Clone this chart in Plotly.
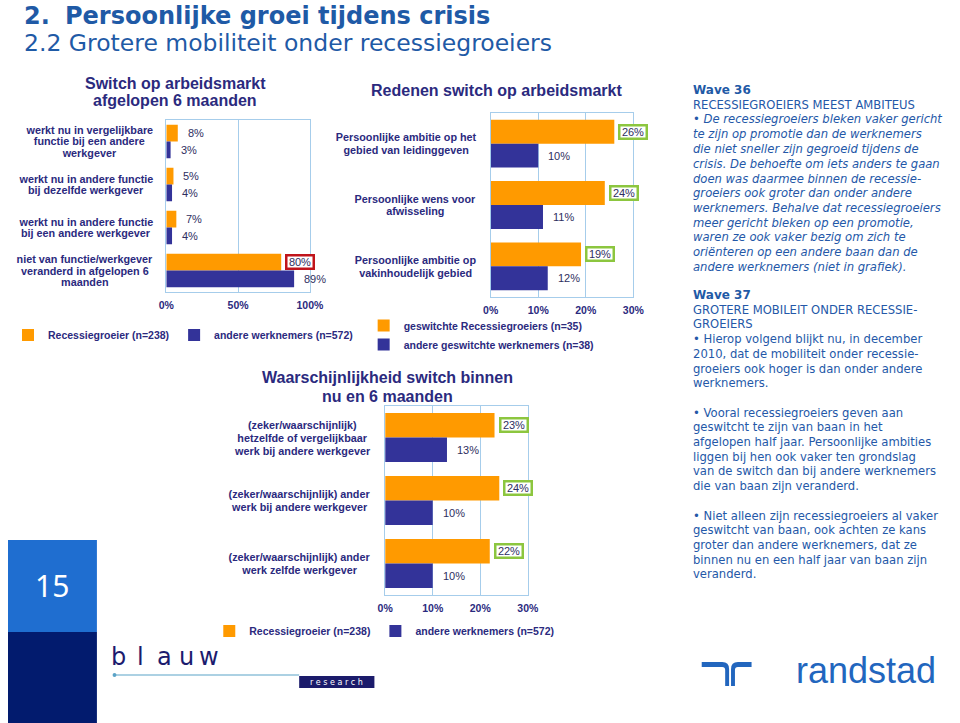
import plotly.graph_objects as go

OX, OY = 0, 0
W, H = 960, 723

# ---------------- data ----------------
switch_categories = [
    "werkt nu in vergelijkbare<br>functie bij een andere<br>werkgever",
    "werkt nu in andere functie<br>bij dezelfde werkgever",
    "werkt nu in andere functie<br>bij een andere werkgever",
    "niet van functie/werkgever<br>veranderd in afgelopen 6<br>maanden",
]
switch_recessiegroeier = [8, 5, 7, 80]
switch_andere = [3, 4, 4, 89]
switch_ticks = [0, 50, 100]
switch_series = ["Recessiegroeier (n=238)", "andere werknemers (n=572)"]
switch_title = ["Switch op arbeidsmarkt", "afgelopen 6 maanden"]

reasons_categories = [
    "Persoonlijke ambitie op het<br>gebied van leidinggeven",
    "Persoonlijke wens voor<br>afwisseling",
    "Persoonlijke ambitie op<br>vakinhoudelijk gebied",
]
reasons_recessiegroeier = [26, 24, 19]
reasons_andere = [10, 11, 12]
reasons_ticks = [0, 10, 20, 30]
reasons_series = ["geswitchte Recessiegroeiers (n=35)", "andere geswitchte werknemers (n=38)"]
reasons_title = ["Redenen switch op arbeidsmarkt"]

likely_categories = [
    "(zeker/waarschijnlijk)<br>hetzelfde of vergelijkbaar<br>werk bij andere werkgever",
    "(zeker/waarschijnlijk) ander<br>werk bij andere werkgever",
    "(zeker/waarschijnlijk) ander<br>werk zelfde werkgever",
]
likely_recessiegroeier = [23, 24, 22]
likely_andere = [13, 10, 10]
likely_ticks = [0, 10, 20, 30]
likely_series = ["Recessiegroeier (n=238)", "andere werknemers (n=572)"]
likely_title = ["Waarschijnlijkheid switch binnen", "nu en 6 maanden"]

heading_number = "2."
heading_main = "Persoonlijke groei tijdens crisis"
heading_sub = "2.2 Grotere mobiliteit onder recessiegroeiers"
page_number = "15"

wave36_lines = [
    ("Wave 36", "head"),
    ("RECESSIEGROEIERS MEEST AMBITEUS", "plain"),
    ("• De recessiegroeiers bleken vaker gericht", "italic"),
    ("te zijn op promotie dan de werknemers", "italic"),
    ("die niet sneller zijn gegroeid tijdens de", "italic"),
    ("crisis. De behoefte om iets anders te gaan", "italic"),
    ("doen was daarmee binnen de recessie-", "italic"),
    ("groeiers ook groter dan onder andere", "italic"),
    ("werknemers. Behalve dat recessiegroeiers", "italic"),
    ("meer gericht bleken op een promotie,", "italic"),
    ("waren ze ook vaker bezig om zich te", "italic"),
    ("oriënteren op een andere baan dan de", "italic"),
    ("andere werknemers (niet in grafiek).", "italic"),
]
wave37_lines = [
    ("Wave 37", "head"),
    ("GROTERE MOBILEIT ONDER RECESSIE-", "plain"),
    ("GROEIERS", "plain"),
    ("• Hierop volgend blijkt nu, in december", "plain"),
    ("2010, dat de mobiliteit onder recessie-", "plain"),
    ("groeiers ook hoger is dan onder andere", "plain"),
    ("werknemers.", "plain"),
    ("", "plain"),
    ("• Vooral recessiegroeiers geven aan", "plain"),
    ("geswitcht te zijn van baan in het", "plain"),
    ("afgelopen half jaar. Persoonlijke ambities", "plain"),
    ("liggen bij hen ook vaker ten grondslag", "plain"),
    ("van de switch dan bij andere werknemers", "plain"),
    ("die van baan zijn veranderd.", "plain"),
    ("", "plain"),
    ("• Niet alleen zijn recessiegroeiers al vaker", "plain"),
    ("geswitcht van baan, ook achten ze kans", "plain"),
    ("groter dan andere werknemers, dat ze", "plain"),
    ("binnen nu en een half jaar van baan zijn", "plain"),
    ("veranderd.", "plain"),
]

# ---------------- style ----------------
ARIAL = "Liberation Sans, Arial, sans-serif"
SLIDE = "DejaVu Sans, Verdana, sans-serif"
ORANGE = "#FF9A00"
NAVY = "#333399"
TXT = "#2B2A7E"
LBL = "#2E2E60"
GRID = "#A6CDEB"
HEAD = "#1F5AA6"
BODY = "#2458A8"
GREEN = "#8CC63F"
RED = "#C0141B"
BARGAP = 0.22
CAT_SIZE = 10.8


def px(x):
    return (x - OX) / W


def py(y):
    return 1 - (y - OY) / H


ARIAL_BOLD = dict(zip("abcdefghijklmnopqrstuvwxyz",
                      [556, 611, 556, 611, 556, 333, 611, 611, 278, 278, 556, 278, 889,
                       611, 611, 611, 611, 389, 556, 333, 611, 556, 778, 556, 556, 500]))
ARIAL_BOLD.update({" ": 278, "/": 278, "(": 333, ")": 333, "%": 889, ".": 278, "-": 333,
                   "=": 584, "P": 667, "W": 944, "R": 722, "S": 667})
for d in "0123456789":
    ARIAL_BOLD[d] = 556


def text_width(s, size):
    return sum(ARIAL_BOLD.get(ch, 700) for ch in s) * size / 1000


charts = [
    dict(ax="", cats=switch_categories, series=(switch_recessiegroeier, switch_andere),
         names=switch_series, ticks=switch_ticks, rng=[0, 100], box=(162, 120, 309, 292),
         label_right=152, line_step=11.5, legend="legend", title=switch_title,
         title_pos=(171, 83), title_step=18,
         boxed=lambda s, i: RED if (s == 0 and i == 3) else None),
    dict(ax="2", cats=reasons_categories, series=(reasons_recessiegroeier, reasons_andere),
         names=reasons_series, ticks=reasons_ticks, rng=[0, 30], box=(494, 113, 640, 297),
         label_right=483, line_step=12.7, legend="legend2", title=reasons_title,
         title_pos=(500, 90), title_step=18,
         boxed=lambda s, i: GREEN if s == 0 else None),
    dict(ax="3", cats=likely_categories, series=(likely_recessiegroeier, likely_andere),
         names=likely_series, ticks=likely_ticks, rng=[0, 30], box=(386, 406, 532, 595),
         label_right=375, line_step=13, legend="legend3", title=likely_title,
         title_pos=(388, 377), title_step=19,
         boxed=lambda s, i: GREEN if s == 0 else None),
]

fig = go.Figure()
layout = {}
annotations = []
off = (1 - BARGAP) / 4

for c in charts:
    xa, ya = "x" + c["ax"], "y" + c["ax"]
    x0, y0, x1, y1 = c["box"]
    for s, (vals, name, color) in enumerate(zip(c["series"], c["names"], [ORANGE, NAVY])):
        fig.add_trace(go.Bar(
            x=vals, y=c["cats"], orientation="h", name=name,
            marker=dict(color=color, line=dict(width=0)),
            xaxis=xa, yaxis=ya, legend=c["legend"],
            hovertemplate="%{x}%<extra>" + name + "</extra>",
        ))
        for i, v in enumerate(vals):
            bc = c["boxed"](s, i)
            ann = dict(x=v, y=i + (-off if s == 0 else off), xref=xa, yref=ya,
                       text=f"{v}%", showarrow=False, xanchor="left", yanchor="middle",
                       xshift=8, font=dict(family=ARIAL, size=11, color=LBL))
            if bc:
                ann.update(bordercolor=bc, borderwidth=2.5, borderpad=0.5, bgcolor="white",
                           width=24, height=10, xshift=4)
            annotations.append(ann)
    layout["xaxis" + c["ax"]] = dict(
        domain=[px(x0), px(x1)], anchor=ya, range=c["rng"], tickvals=c["ticks"],
        ticktext=[f"{t}%" for t in c["ticks"]],
        showgrid=True, gridcolor=GRID, gridwidth=1, showline=True,
        linecolor=GRID, linewidth=1, mirror=True, zeroline=False, ticks="",
        tickfont=dict(family=ARIAL, size=10.5, color=TXT, weight="bold"),
        ticklabelstandoff=3, fixedrange=True,
    )
    layout["yaxis" + c["ax"]] = dict(
        domain=[py(y1), py(y0)], anchor=xa, autorange="reversed", type="category",
        categoryorder="array", categoryarray=c["cats"], showticklabels=False,
        showline=True, linecolor=GRID, linewidth=1, mirror=True, showgrid=False,
        ticks="", fixedrange=True,
    )
    # category labels, centred lines, right-aligned block
    for i, cat in enumerate(c["cats"]):
        lines = cat.split("<br>")
        n = len(lines)
        bw = max(text_width(l, CAT_SIZE) for l in lines) + 4
        for j, line in enumerate(lines):
            annotations.append(dict(
                x=px(c["label_right"]), y=i, xref="paper", yref=ya, text=line,
                showarrow=False, xanchor="right", yanchor="middle", width=bw,
                align="center", yshift=((n - 1) / 2 - j) * c["line_step"],
                font=dict(family=ARIAL, size=CAT_SIZE, color=TXT, weight="bold"),
            ))
    # titles
    tx, ty = c["title_pos"]
    for j, line in enumerate(c["title"]):
        annotations.append(dict(
            x=px(tx), y=py(ty + j * c["title_step"]), xref="paper", yref="paper",
            text=line, showarrow=False, xanchor="center", yanchor="middle",
            font=dict(family=ARIAL, size=16, color=TXT, weight="bold"),
        ))

LEG_FONT = dict(family=ARIAL, size=10.5, color=TXT, weight="bold")
leg_common = dict(font=LEG_FONT, bgcolor="rgba(0,0,0,0)", itemwidth=30,
                  traceorder="normal", itemclick=False, itemdoubleclick=False,
                  xanchor="left", yanchor="middle", tracegroupgap=0)
layout["legend"] = dict(orientation="h", x=0, y=py(335), **leg_common)
layout["legend2"] = dict(orientation="v", x=px(364), y=py(335), **leg_common)
layout["legend3"] = dict(orientation="h", x=px(206), y=py(631), **leg_common)


def txt_ann(x, y, text, font, xanchor="left"):
    return dict(x=px(x), y=py(y), xref="paper", yref="paper", text=text, showarrow=False,
                xanchor=xanchor, yanchor="middle", font=font)


# headings
annotations += [
    txt_ann(14, 16, heading_number, dict(family=SLIDE, size=24, color=HEAD, weight="bold")),
    txt_ann(56, 16, heading_main, dict(family=SLIDE, size=24, color=HEAD, weight="bold")),
    txt_ann(14, 43, heading_sub, dict(family=SLIDE, size=23.5, color=HEAD)),
]


# right-hand text panel
def add_panel(lines, y_start, step):
    for k, (txt, kind) in enumerate(lines):
        if not txt:
            continue
        f = dict(family=SLIDE, size=11.6, color=BODY)
        if kind == "head":
            f.update(size=12, weight="bold", color=HEAD)
            txt_out = txt
        elif kind == "italic":
            txt_out = "<i>" + txt + "</i>"
        else:
            txt_out = txt
        annotations.append(txt_ann(699, y_start + k * step, txt_out, f))


add_panel(wave36_lines, 90, 14.75)
add_panel(wave37_lines, 295, 14.7)

# page number
annotations.append(txt_ann(45, 585, page_number,
                           dict(family="Noto Sans, sans-serif", size=30, color="white"), "center"))

# blauw research logo
for ch, cx in zip("blauw", [113, 136, 160, 183, 206]):
    annotations.append(txt_ann(cx, 657, ch, dict(family="DejaVu Sans", size=24, color="#1B1B6E"), "center"))
annotations.append(txt_ann(336, 682, "r e s e a r c h",
                           dict(family="DejaVu Sans", size=8, color="white"), "center"))

# randstad logo
annotations.append(txt_ann(878, 670, "randstad",
                           dict(family="Liberation Sans", size=36, color="#2266BE"), "center"))


def ppath(tokens):
    out, buf = [], []
    for t in tokens:
        if isinstance(t, str):
            out.append(t)
        else:
            buf.append(t)
            if len(buf) == 2:
                out.append(f"{px(buf[0]):.5f},{py(buf[1]):.5f}")
                buf = []
    return " ".join(out)


shapes = [
    dict(type="rect", xref="paper", yref="paper", x0=px(0), x1=px(91), y0=py(632), y1=py(540),
         fillcolor="#1F6ED0", line=dict(width=0), layer="below"),
    dict(type="rect", xref="paper", yref="paper", x0=px(0), x1=px(91), y0=py(724), y1=py(632),
         fillcolor="#021B6E", line=dict(width=0), layer="below"),
    dict(type="line", xref="paper", yref="paper", x0=px(109), x1=px(298), y0=py(675), y1=py(675),
         line=dict(color="#5BA3C7", width=1.2)),
    dict(type="circle", xref="paper", yref="paper", x0=px(107), x1=px(111), y0=py(677), y1=py(673),
         fillcolor="#5BA3C7", line=dict(width=0)),
    dict(type="rect", xref="paper", yref="paper", x0=px(298), x1=px(375), y0=py(688), y1=py(676),
         fillcolor="#1B1B6B", line=dict(width=0), layer="below"),
    dict(type="path", xref="paper", yref="paper", fillcolor="#2266BE", line=dict(width=0),
         path=ppath(["M", 710, 662, "L", 731, 662, "Q", 738, 662, 738, 669, "L", 738, 686,
                     "L", 734, 686, "L", 734, 670, "Q", 734, 667, 731, 667, "L", 710, 667, "Z"])),
    dict(type="path", xref="paper", yref="paper", fillcolor="#2266BE", line=dict(width=0),
         path=ppath(["M", 761, 662, "L", 747, 662, "Q", 740, 662, 740, 669, "L", 740, 686,
                     "L", 744, 686, "L", 744, 670, "Q", 744, 667, 747, 667, "L", 761, 667, "Z"])),
]

fig.update_layout(
    width=W, height=H, margin=dict(l=0, r=0, t=0, b=0, pad=0),
    paper_bgcolor="white", plot_bgcolor="white",
    barmode="group", bargap=BARGAP, bargroupgap=0,
    annotations=annotations, shapes=shapes, showlegend=True,
    **layout,
)

fig.write_html("out.html", config={"displayModeBar": False},
               post_script="document.body.style.margin='0px';document.body.style.overflow='hidden';")
